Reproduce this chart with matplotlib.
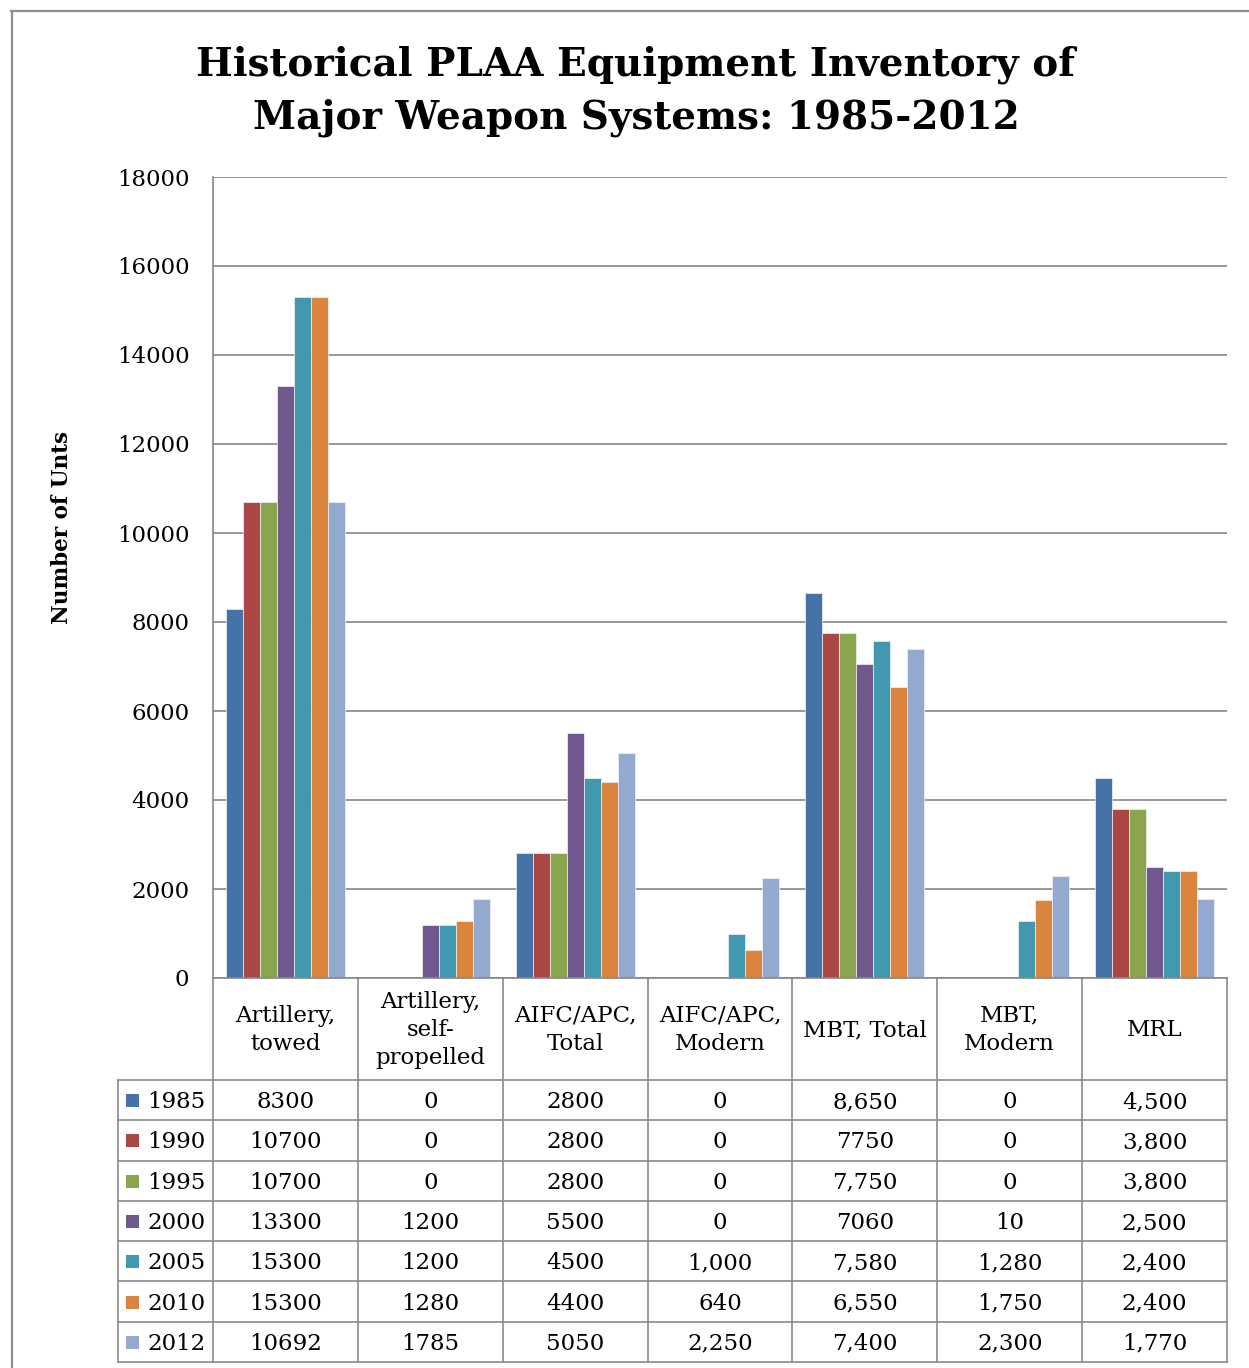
import matplotlib
matplotlib.use("Agg")
import matplotlib.pyplot as plt
from matplotlib.lines import Line2D
from matplotlib.patches import Rectangle
from matplotlib.transforms import blended_transform_factory

# ---- data -------------------------------------------------------------
categories = ["Artillery,\ntowed", "Artillery,\nself-\npropelled", "AIFC/APC,\nTotal",
              "AIFC/APC,\nModern", "MBT, Total", "MBT,\nModern", "MRL"]
years = ["1985", "1990", "1995", "2000", "2005", "2010", "2012"]

# table entries as printed; bar heights are parsed from these strings
row_1985 = ["8300", "0", "2800", "0", "8,650", "0", "4,500"]
row_1990 = ["10700", "0", "2800", "0", "7750", "0", "3,800"]
row_1995 = ["10700", "0", "2800", "0", "7,750", "0", "3,800"]
row_2000 = ["13300", "1200", "5500", "0", "7060", "10", "2,500"]
row_2005 = ["15300", "1200", "4500", "1,000", "7,580", "1,280", "2,400"]
row_2010 = ["15300", "1280", "4400", "640", "6,550", "1,750", "2,400"]
row_2012 = ["10692", "1785", "5050", "2,250", "7,400", "2,300", "1,770"]
rows = [row_1985, row_1990, row_1995, row_2000, row_2005, row_2010, row_2012]

colors = ["#4572A7", "#AA4643", "#89A54E", "#71588F", "#4198AF", "#DB843D", "#93A9CF"]
y_ticks = [0, 2000, 4000, 6000, 8000, 10000, 12000, 14000, 16000, 18000]

# ---- figure ------------------------------------------------------------
W, H = 1249, 1368
plt.rcParams["font.family"] = ["DejaVu Serif"]
fig = plt.figure(figsize=(W / 100, H / 100), dpi=100)
FS = 16.5


def fx(x):
    return x / W


def fy(y):
    return 1 - y / H


left, right, top, bottom = 213, 1227, 177, 978
ax = fig.add_axes([fx(left), fy(bottom), (right - left) / W, (bottom - top) / H])

n = len(years)
group = 0.82
bw = group / n
xs = list(range(len(categories)))
for i, (yr, row) in enumerate(zip(years, rows)):
    vals = [float(s.replace(",", "")) for s in row]
    offs = [x - group / 2 + bw * (i + 0.5) for x in xs]
    ax.bar(offs, vals, width=bw, color=colors[i], edgecolor="#f2f2f2",
           linewidth=0.5, zorder=2)

ax.set_xlim(-0.5, len(categories) - 0.5)
ax.set_ylim(0, 18000)
ax.set_yticks(y_ticks)
ax.set_yticklabels([str(t) for t in y_ticks], fontsize=FS)
ax.tick_params(axis="y", length=0, pad=17)
ax.set_xticks([])
ax.yaxis.grid(True, color="#868686", linewidth=1.2, zorder=0)
ax.set_axisbelow(True)
for s in ["top", "right"]:
    ax.spines[s].set_visible(False)
ax.spines["left"].set_color("#868686")
ax.spines["left"].set_linewidth(1.2)
ax.spines["bottom"].set_color("#868686")
ax.spines["bottom"].set_linewidth(1.2)

fig.text(fx(62), fy(527), "Number of Unts", rotation=90, ha="center", va="center",
         fontsize=15.5, fontweight="bold")

fig.text(fx(636), fy(91), "Historical PLAA Equipment Inventory of\nMajor Weapon Systems: 1985-2012",
         ha="center", va="center", fontsize=28, fontweight="bold", linespacing=1.5)

# ---- data table below the axes ----------------------------------------
grid_c = "#8a8a8a"
lw = 1.2
tr = blended_transform_factory(ax.transData, fig.transFigure)
header_bottom = 1080
row_h = (1362 - header_bottom) / n
legend_left = 118

# vertical lines at category boundaries
for k in range(len(categories) + 1):
    fig.add_artist(Line2D([k - 0.5, k - 0.5], [fy(bottom), fy(1362)],
                          transform=tr, color=grid_c, linewidth=lw))
fig.add_artist(Line2D([fx(legend_left)] * 2, [fy(header_bottom), fy(1362)],
                      transform=fig.transFigure, color=grid_c, linewidth=lw))
# horizontal row lines
for r in range(n + 1):
    yy = fy(header_bottom + r * row_h)
    fig.add_artist(Line2D([fx(legend_left), fx(right)], [yy, yy],
                          transform=fig.transFigure, color=grid_c, linewidth=lw))

# header labels
for k, cat in enumerate(categories):
    fig.text(k, fy((bottom + header_bottom) / 2 + 1), cat, transform=tr,
             ha="center", va="center", fontsize=FS, linespacing=1.38)

# rows
for r, (yr, row) in enumerate(zip(years, rows)):
    yc = header_bottom + (r + 0.5) * row_h
    fig.add_artist(Rectangle((fx(126), fy(yc + 7)), 13 / W, 13 / H,
                             transform=fig.transFigure, facecolor=colors[r],
                             edgecolor="none"))
    fig.text(fx(147), fy(yc + 2), yr, ha="left", va="center", fontsize=FS)
    for k, s in enumerate(row):
        fig.text(k, fy(yc + 2), s, transform=tr, ha="center", va="center", fontsize=FS)

# chart-area frame
frame_c = "#8f8f8f"
fig.add_artist(Line2D([fx(11), 1], [fy(11), fy(11)], transform=fig.transFigure,
                      color=frame_c, linewidth=1.6))
fig.add_artist(Line2D([fx(12), fx(12)], [fy(11), 0], transform=fig.transFigure,
                      color=frame_c, linewidth=1.6))

fig.savefig("out.png", dpi=100)
